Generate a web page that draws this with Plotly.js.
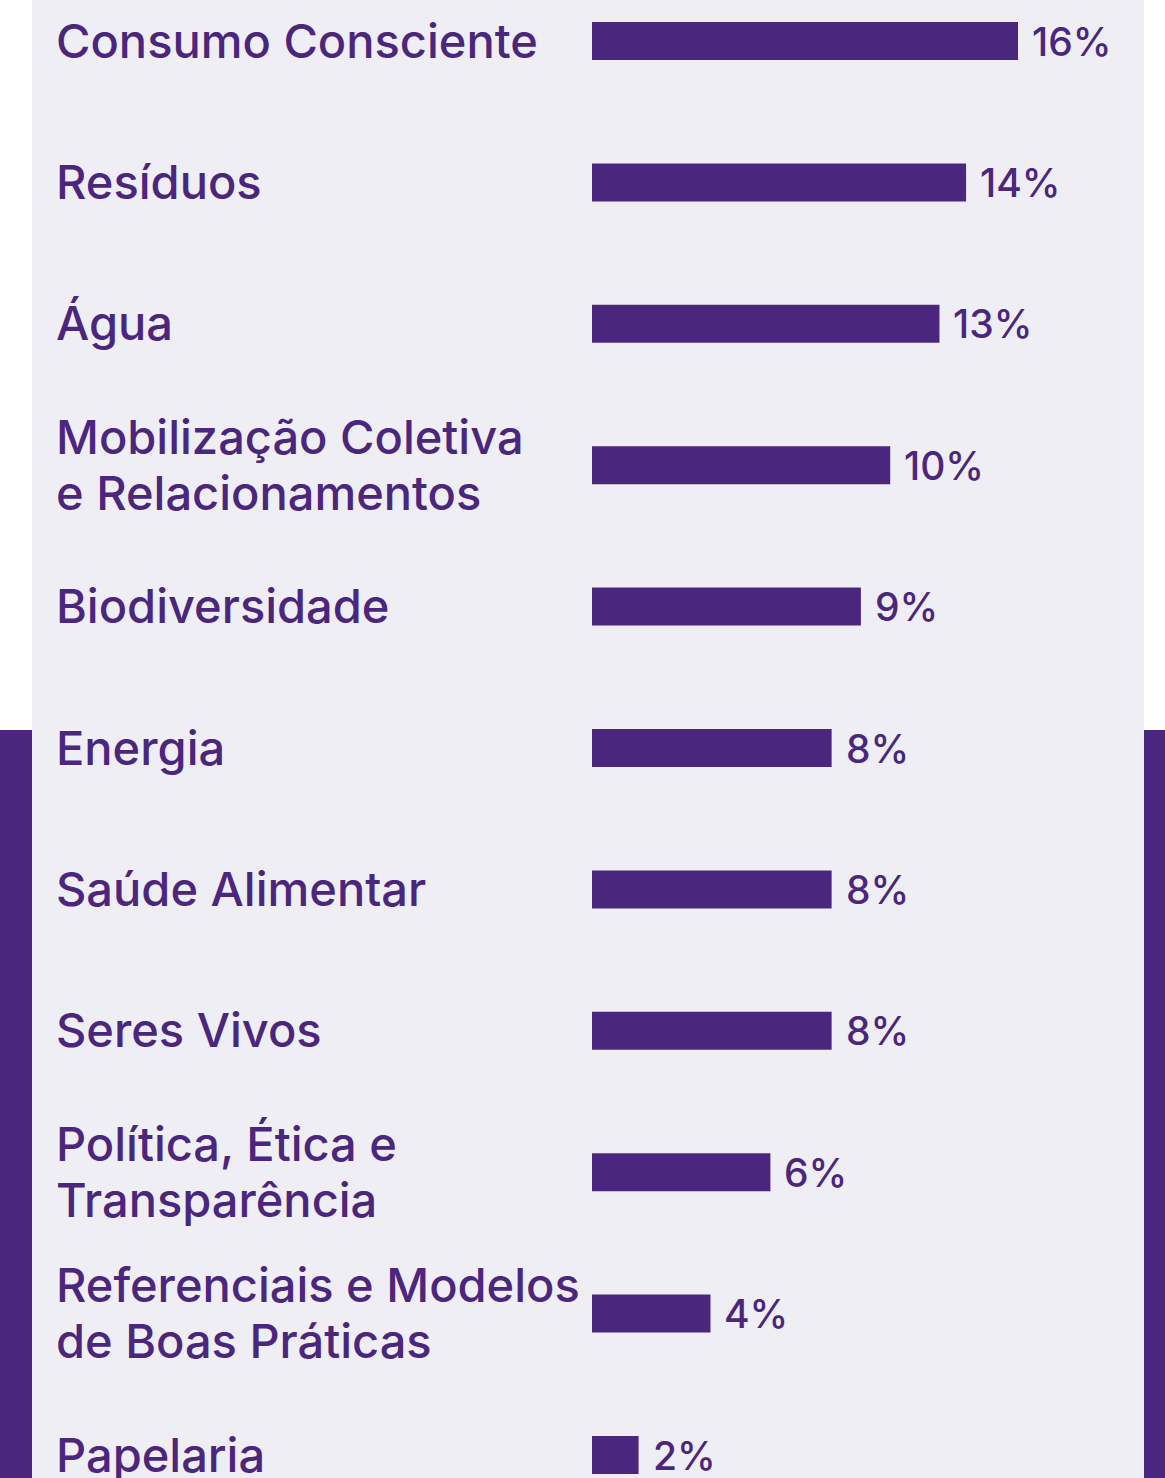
<!DOCTYPE html>
<html>
<head>
<meta charset="utf-8">
<script src="https://cdn.plot.ly/plotly-3.0.1.min.js"></script>
<style>
  html, body { margin: 0; padding: 0; background: #ffffff; }
  #chart { width: 1165px; height: 1478px; }
</style>
</head>
<body>
<div id="chart"></div>
<script>
// Categories (top to bottom), as shown in the chart
const categories = [
  "Consumo Consciente",
  "Resíduos",
  "Água",
  "Mobilização Coletiva<br>e Relacionamentos",
  "Biodiversidade",
  "Energia",
  "Saúde Alimentar",
  "Seres Vivos",
  "Política, Ética e<br>Transparência",
  "Referenciais e Modelos<br>de Boas Práticas",
  "Papelaria"
];
// Bar lengths (in % units)
const values = [16, 14.05, 13.05, 11.2, 10.1, 9.0, 9.0, 9.0, 6.7, 4.45, 1.75];
// Printed value labels
const valueLabels = ["16%", "14%", "13%", "10%", "9%", "8%", "8%", "8%", "6%", "4%", "2%"];

const PURPLE = "#4B267E";
const PANEL = "#EFEEF5";
const FONT = "Inter, 'Noto Sans', sans-serif";

const W = 1165, H = 1478;
const LINE_GAP = 56;

const trace = {
  type: "bar",
  orientation: "h",
  x: values,
  y: categories,
  marker: { color: PURPLE, line: { width: 0 } },
  width: 0.269,
  hoverinfo: "skip",
  showlegend: false
};

const annotations = [];
categories.forEach((c, i) => {
  const lines = c.split("<br>");
  lines.forEach((ln, k) => {
    annotations.push({
      xref: "paper", yref: "y",
      x: 54 / W, y: c,
      xanchor: "left", yanchor: "middle", align: "left",
      yshift: ((lines.length - 1) / 2 - k) * LINE_GAP + 1,
      text: ln, showarrow: false,
      font: { family: FONT, size: 47, weight: 500, color: PURPLE }
    });
  });
  annotations.push({
    xref: "x", yref: "y",
    x: values[i], y: c,
    xanchor: "left", yanchor: "middle",
    xshift: 12,
    text: valueLabels[i], showarrow: false,
    font: { family: FONT, size: 39, weight: 500, color: PURPLE }
  });
});

const layout = {
  width: W, height: H,
  margin: { l: 0, r: 0, t: 0, b: 0, pad: 0 },
  paper_bgcolor: "#ffffff",
  plot_bgcolor: "rgba(0,0,0,0)",
  showlegend: false,
  xaxis: {
    domain: [592 / W, 1],
    range: [0, (W - 592) / 26.625],
    visible: false, fixedrange: true
  },
  yaxis: {
    type: "category",
    categoryorder: "array", categoryarray: categories,
    range: [10 + 23 / 141.4, -41 / 141.4],
    visible: false, fixedrange: true
  },
  shapes: [
    { type: "rect", xref: "paper", yref: "paper", x0: 32 / W, x1: 1144 / W, y0: 0, y1: 1,
      fillcolor: PANEL, line: { width: 0 }, layer: "below" },
    { type: "rect", xref: "paper", yref: "paper", x0: 0, x1: 32 / W, y0: 0, y1: 1 - 730 / H,
      fillcolor: PURPLE, line: { width: 0 }, layer: "below" },
    { type: "rect", xref: "paper", yref: "paper", x0: 1144 / W, x1: 1, y0: 0, y1: 1 - 730 / H,
      fillcolor: PURPLE, line: { width: 0 }, layer: "below" }
  ],
  annotations: annotations
};

Plotly.newPlot("chart", [trace], layout, { staticPlot: true, displayModeBar: false });
</script>
</body>
</html>
